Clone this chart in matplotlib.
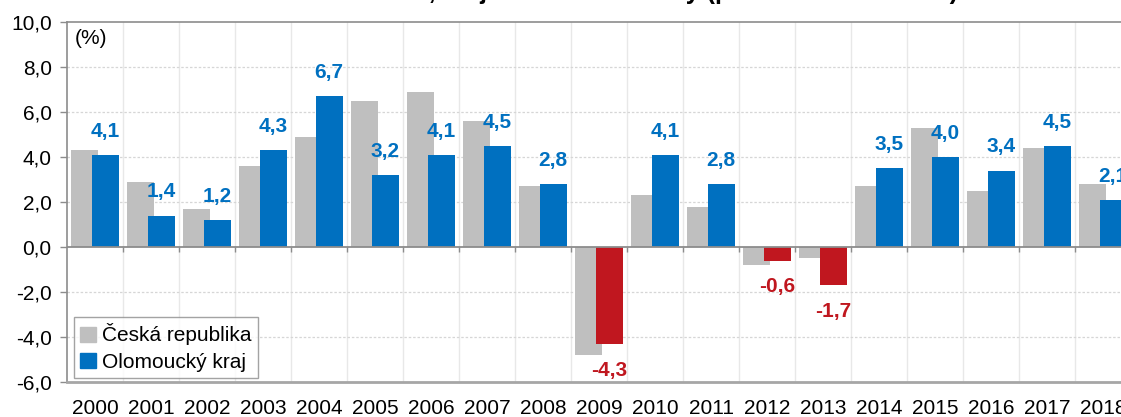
import numpy as np
import matplotlib
matplotlib.use("Agg")
import matplotlib.pyplot as plt

plt.rcParams['font.family'] = ['Liberation Sans', 'DejaVu Sans']

years = [str(y) for y in range(2000, 2019)]
cr = [4.3, 2.9, 1.7, 3.6, 4.9, 6.5, 6.9, 5.6, 2.7, -4.8, 2.3, 1.8, -0.8, -0.5, 2.7, 5.3, 2.5, 4.4, 2.8]
olk = [4.1, 1.4, 1.2, 4.3, 6.7, 3.2, 4.1, 4.5, 2.8, -4.3, 4.1, 2.8, -0.6, -1.7, 3.5, 4.0, 3.4, 4.5, 2.1]
yticks = [-6, -4, -2, 0, 2, 4, 6, 8, 10]

GRAY = '#BFBFBF'
BLUE = '#0070C0'
RED = '#C0171F'
AXIS = '#8C8C8C'

fig = plt.figure(figsize=(11.21, 4.17), dpi=100)
ax = fig.add_axes([67 / 1121, 35 / 417, 1064 / 1121, 360 / 417])

x = np.arange(len(years))
w = 0.48
ax.bar(x - 0.18, cr, w, color=GRAY, zorder=3, label='Česká republika')
olk_colors = [BLUE if v >= 0 else RED for v in olk]
ax.bar(x + 0.18, olk, w, color=olk_colors, zorder=4, label='Olomoucký kraj')

# data labels only for the region
for xi, v, c in zip(x, olk, olk_colors):
    off = 17 if v >= 0 else -19
    ax.annotate(f"{v:.1f}".replace('.', ','), (xi + 0.18, v), xytext=(0, off),
                textcoords='offset points', ha='center', va='center',
                fontsize=15, fontweight='bold', color=c, zorder=5)

ax.set_xlim(-0.5, len(years) - 0.5)
ax.set_ylim(-6, 10)
ax.set_yticks(yticks)
ax.set_yticklabels([f"{t:.1f}".replace('.', ',') for t in yticks], fontsize=15)
ax.set_xticks(x)
ax.set_xticklabels(years, fontsize=15)
ax.tick_params(axis='x', length=0, pad=12)
ax.tick_params(axis='y', length=5, width=1, color=AXIS, pad=6)

bounds = np.arange(len(years) + 1) - 0.5
for b in bounds[1:-1]:
    ax.axvline(b, color='#E8E8E8', lw=1, zorder=1)
for t in yticks[1:-1]:
    if t != 0:
        ax.axhline(t, color='#D6D6D6', lw=0.9, ls=(0, (2, 1.5)), zorder=1)
ax.axhline(0, color=AXIS, lw=1.3, zorder=5)
ax.vlines(bounds[1:-1], -0.22, 0, color=AXIS, lw=1, zorder=5)

for s in ['top', 'left']:
    ax.spines[s].set_color(AXIS)
    ax.spines[s].set_linewidth(1.2)
ax.spines['bottom'].set_color('#A6A6A6')
ax.spines['bottom'].set_linewidth(2)
ax.spines['right'].set_visible(False)

ax.text(0.0075, 0.955, '(%)', transform=ax.transAxes, fontsize=15, va='center', ha='left')

leg = ax.legend(loc='lower left', bbox_to_anchor=(0.0066, 0.011), borderaxespad=0,
                fontsize=15, frameon=True, fancybox=False, handlelength=0.75,
                handleheight=0.75, handletextpad=0.3, labelspacing=0.35,
                borderpad=0.3)
leg.get_frame().set_edgecolor(AXIS)
leg.get_frame().set_linewidth(1)
leg.legend_handles[0].set_color(GRAY)
leg.legend_handles[1].set_color(BLUE)

# title is mostly cut off at the top edge in the reference
fig.text(0.855, 1 + 1 / 417, 'Meziroční změna HDP, kraj a ČR – stálé ceny (předchozí rok = 100)',
         ha='right', va='baseline', fontsize=18, fontweight='bold')

fig.savefig('out.png', dpi=100)
